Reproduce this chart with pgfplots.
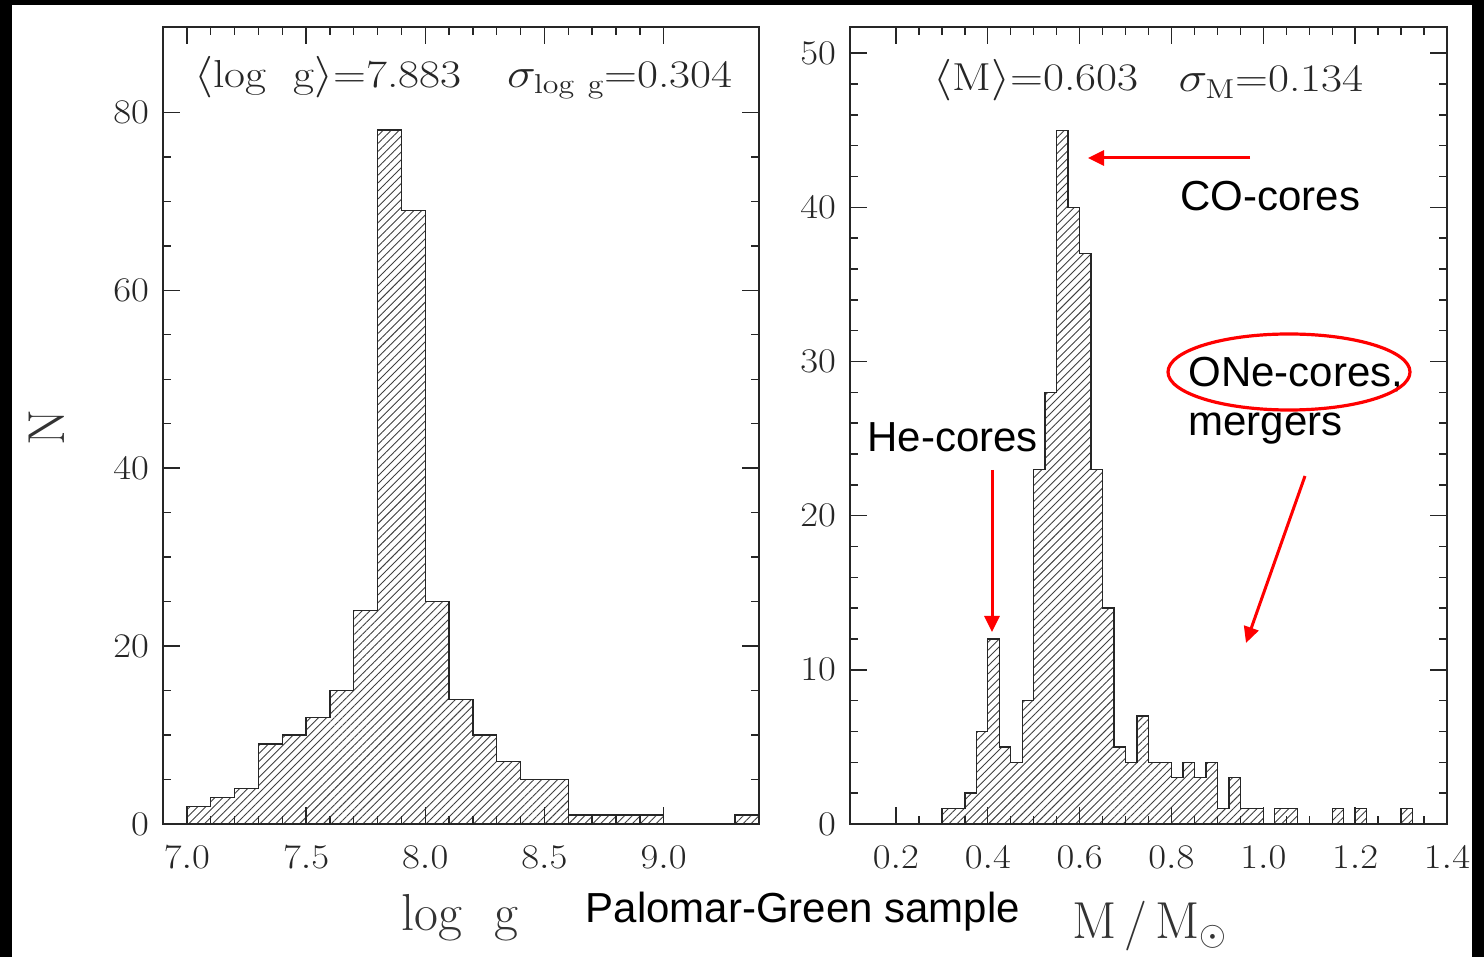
\documentclass[border=0pt]{standalone}
\usepackage{fontspec}
\usepackage{graphicx}
\usepackage{pgfplots}
\usepackage{pgfplotstable}
\pgfplotsset{compat=1.18}
\usetikzlibrary{patterns.meta,arrows.meta}
\newfontfamily\arial{Liberation Sans}

\pgfplotstableread{
x n
7.0 2
7.1 3
7.2 4
7.3 9
7.4 10
7.5 12
7.6 15
7.7 24
7.8 78
7.9 69
8.0 25
8.1 14
8.2 10
8.3 7
8.4 5
8.5 5
8.6 1
8.7 1
8.8 1
8.9 1
9.0 0
9.1 0
9.2 0
9.3 1
9.4 1
}\loggtable

\pgfplotstableread{
x n
0.300 1
0.325 1
0.350 2
0.375 6
0.400 12
0.425 5
0.450 4
0.475 8
0.500 23
0.525 28
0.550 45
0.575 40
0.600 37
0.625 23
0.650 14
0.675 5
0.700 4
0.725 7
0.750 4
0.775 4
0.800 3
0.825 4
0.850 3
0.875 4
0.900 1
0.925 3
0.950 1
0.975 1
1.000 0
1.025 1
1.050 1
1.075 0
1.100 0
1.125 0
1.150 1
1.175 0
1.200 1
1.225 0
1.250 0
1.275 0
1.300 1
1.325 0
}\masstable

\newcommand{\tlfont}{\fontsize{17}{20}\selectfont}
\newcommand{\anfont}{\fontsize{19.5}{23}\selectfont}

\pgfplotsset{
  pgpanel/.style={
    anchor=south west,
    scale only axis,
    height=398.5pt,
    axis on top,
    xticklabel pos=left, yticklabel pos=left,
    xtick pos=both, ytick pos=both,
    tick align=inside,
    major tick length=8.5pt,
    minor tick length=4pt,
    every tick/.style={black!85, line width=0.7pt},
    axis line style={black!85, line width=0.8pt},
    ymin=0,
    xticklabel style={font=\tlfont, yshift=-7.5pt, text=black!85},
    yticklabel style={font=\tlfont, xshift=-3.5pt, text=black!85},
    yticklabel={\scalebox{1.12}[1]{\pgfmathprintnumber{\tick}}},
    xticklabel={\scalebox{1.12}[1]{\pgfmathprintnumber[fixed,fixed zerofill,precision=1]{\tick}}},
  },
  hist/.style={
    const plot,
    draw=black!85, line width=0.7pt,
    pattern={Lines[angle=45,distance=2.8pt,line width=0.45pt]},
    pattern color=black!75,
  }
}

\begin{document}
\begin{tikzpicture}
% background frame
\fill[black] (0pt,0pt) rectangle (742pt,-478.5pt);
\fill[white] (6pt,-2.5pt) rectangle (736pt,-478.5pt);

\begin{axis}[pgpanel,
  at={(81.5pt,-412pt)},
  width=298pt,
  xmin=6.9, xmax=9.4, ymax=89.6,
  xtick={7.0,7.5,8.0,8.5,9.0}, minor x tick num=4,
  ytick={0,20,40,60,80}, minor y tick num=3,
]
\addplot[hist] table[x=x,y=n] {\loggtable} \closedcycle;
\end{axis}

\begin{axis}[pgpanel,
  at={(425pt,-412pt)},
  width=298.5pt,
  xmin=0.1, xmax=1.4, ymax=51.7,
  xtick={0.2,0.4,0.6,0.8,1.0,1.2,1.4}, minor x tick num=3,
  ytick={0,10,20,30,40,50}, minor y tick num=4,
]
\addplot[hist] table[x=x,y=n] {\masstable} \closedcycle;
\end{axis}

\begin{scope}[x=0.5pt,y=-0.5pt]
  % in-panel statistics
  \node[font=\anfont, text=black!85] at (328,77) {\scalebox{1.17}[1]{$\langle$log\ \ g$\rangle$=7.883}};
  \node[font=\anfont, text=black!85] at (620,80) {\scalebox{1.17}[1]{$\sigma_{\mathrm{log\ g}}$=0.304}};
  \node[font=\anfont, text=black!85] at (1036,80) {\scalebox{1.17}[1]{$\langle$M$\rangle$=0.603}};
  \node[font=\anfont, text=black!85] at (1271,82) {\scalebox{1.17}[1]{$\sigma_{\mathrm{M}}$=0.134}};
  % axis labels
  \node[font=\fontsize{26}{30}\selectfont, rotate=90, text=black!80] at (47,427) {N};
  \node[font=\fontsize{26}{30}\selectfont, anchor=base, text=black!80] at (460,930) {log\ \ g};
  \node[font=\fontsize{26}{30}\selectfont, anchor=base, text=black!80] at (1150,938) {$\mathrm{M}\,/\,\mathrm{M}_{\odot}$};
  \node[font=\arial\fontsize{21}{25}\selectfont, anchor=base] at (803,922) {Palomar-Green sample};
  % annotations
  \node[font=\arial\fontsize{21}{25}\selectfont, anchor=base west, inner sep=0pt] at (1180,211) {CO-cores};
  \node[font=\arial\fontsize{21}{25}\selectfont, anchor=base west, inner sep=0pt] at (867,452) {He-cores};
  \node[font=\arial\fontsize{21}{25}\selectfont, anchor=base west, inner sep=0pt] at (1188,387) {ONe-cores,};
  \node[font=\arial\fontsize{21}{25}\selectfont, anchor=base west, inner sep=0pt] at (1188,436) {mergers};
  \draw[red, line width=1.6pt] (1289,372) ellipse [x radius=121, y radius=38];
  \draw[red, line width=1.5pt, -{Triangle[length=8pt,width=7.5pt]}] (1250,158) -- (1088,158);
  \draw[red, line width=1.5pt, -{Triangle[length=8pt,width=7.5pt]}] (992,470) -- (992,632);
  \draw[red, line width=1.5pt, -{Triangle[length=8pt,width=7.5pt]}] (1305,476) -- (1246,643);
\end{scope}
\path[use as bounding box] (0pt,0pt) rectangle (742pt,-478.5pt);
\end{tikzpicture}
\end{document}
